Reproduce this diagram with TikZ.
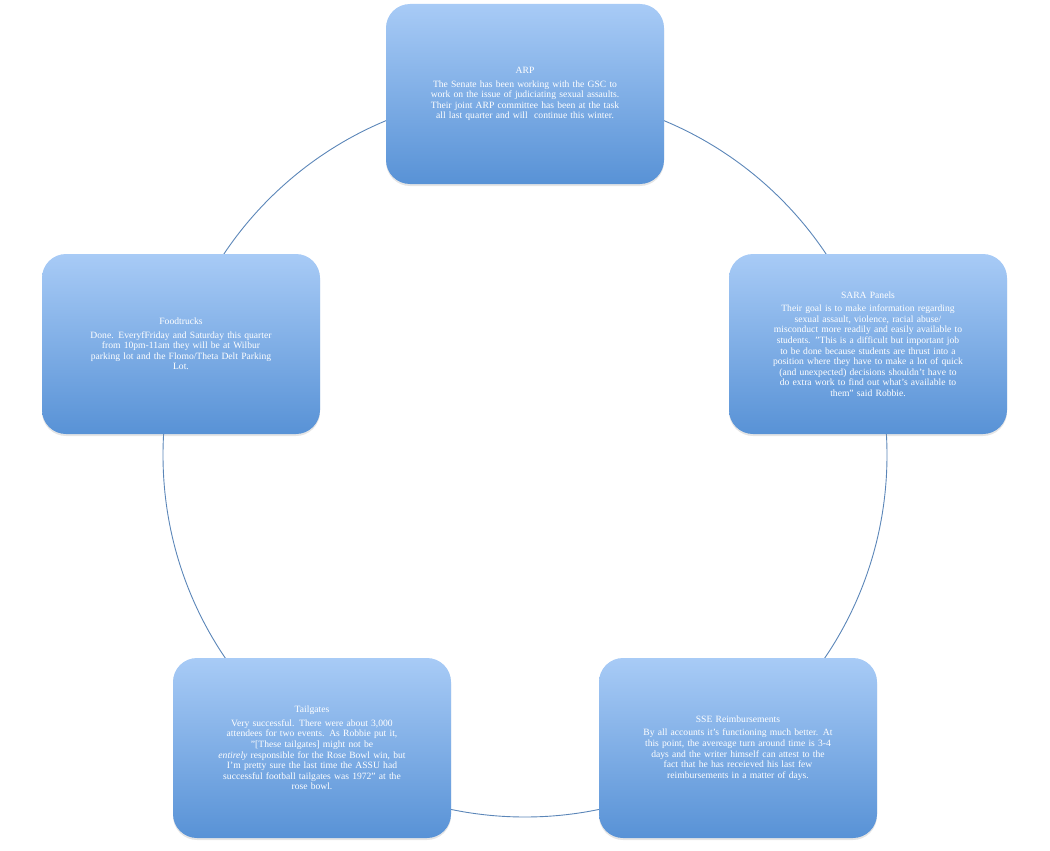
\documentclass[tikz,border=0pt]{standalone}
\usepackage{fontspec}
\setmainfont{Liberation Serif}
\usetikzlibrary{shadows}
\definecolor{topc}{HTML}{A8CBF6}
\definecolor{botc}{HTML}{5892D6}
\definecolor{ringc}{HTML}{5B86B8}
\tikzset{
  card/.style={rounded corners=24pt, minimum width=278pt, minimum height=180pt,
    top color=topc, bottom color=botc, draw=none, text=white,
    align=center, font=\fontsize{9.6}{10.6}\selectfont,
    drop shadow={shadow xshift=0pt, shadow yshift=-2pt, opacity=0.25, fill=black!40}},
}
\begin{document}
\begin{tikzpicture}[x=1pt,y=-1pt]
\useasboundingbox (0,0) rectangle (1050,851);
\draw[ringc, line width=0.9pt] (525,455) circle[radius=362];
\node[card, text width=250pt] (arp) at (525,94) {ARP\\[3pt]
The Senate has been working with the GSC to\\ work on the issue of judiciating sexual assaults.\\ Their joint ARP committee has been at the task\\ all last quarter and will~ continue this winter.\\[18pt]};
\node[card, text width=260pt] (sara) at (868,344) {SARA Panels\\[3pt]
Their goal is to make information regarding\\ sexual assault, violence, racial abuse/\\ misconduct more readily and easily available to\\ students. "This is a difficult but important job\\ to be done because students are thrust into a\\ position where they have to make a lot of quick\\ (and unexpected) decisions shouldn't have to\\ do extra work to find out what's available to\\ them" said Robbie.};
\node[card, text width=255pt] (food) at (181,344) {Foodtrucks\\[3pt]
Done. EveryfFriday and Saturday this quarter\\ from 10pm-11am they will be at Wilbur\\ parking lot and the Flomo/Theta Delt Parking\\ Lot.\\[8pt]};
\node[card, text width=255pt] (tail) at (312,748) {Tailgates\\[3pt]
Very successful. There were about 3,000\\ attendees for two events. As Robbie put it,\\ "[These tailgates] might not be\\ \textit{entirely} responsible for the Rose Bowl win, but\\ I'm pretty sure the last time the ASSU had\\ successful football tailgates was 1972" at the\\ rose bowl.};
\node[card, text width=255pt] (sse) at (738,748) {SSE Reimbursements\\[3pt]
By all accounts it's functioning much better. At\\ this point, the avereage turn around time is 3-4\\ days and the writer himself can attest to the\\ fact that he has receieved his last few\\ reimbursements in a matter of days.};
\end{tikzpicture}
\end{document}
